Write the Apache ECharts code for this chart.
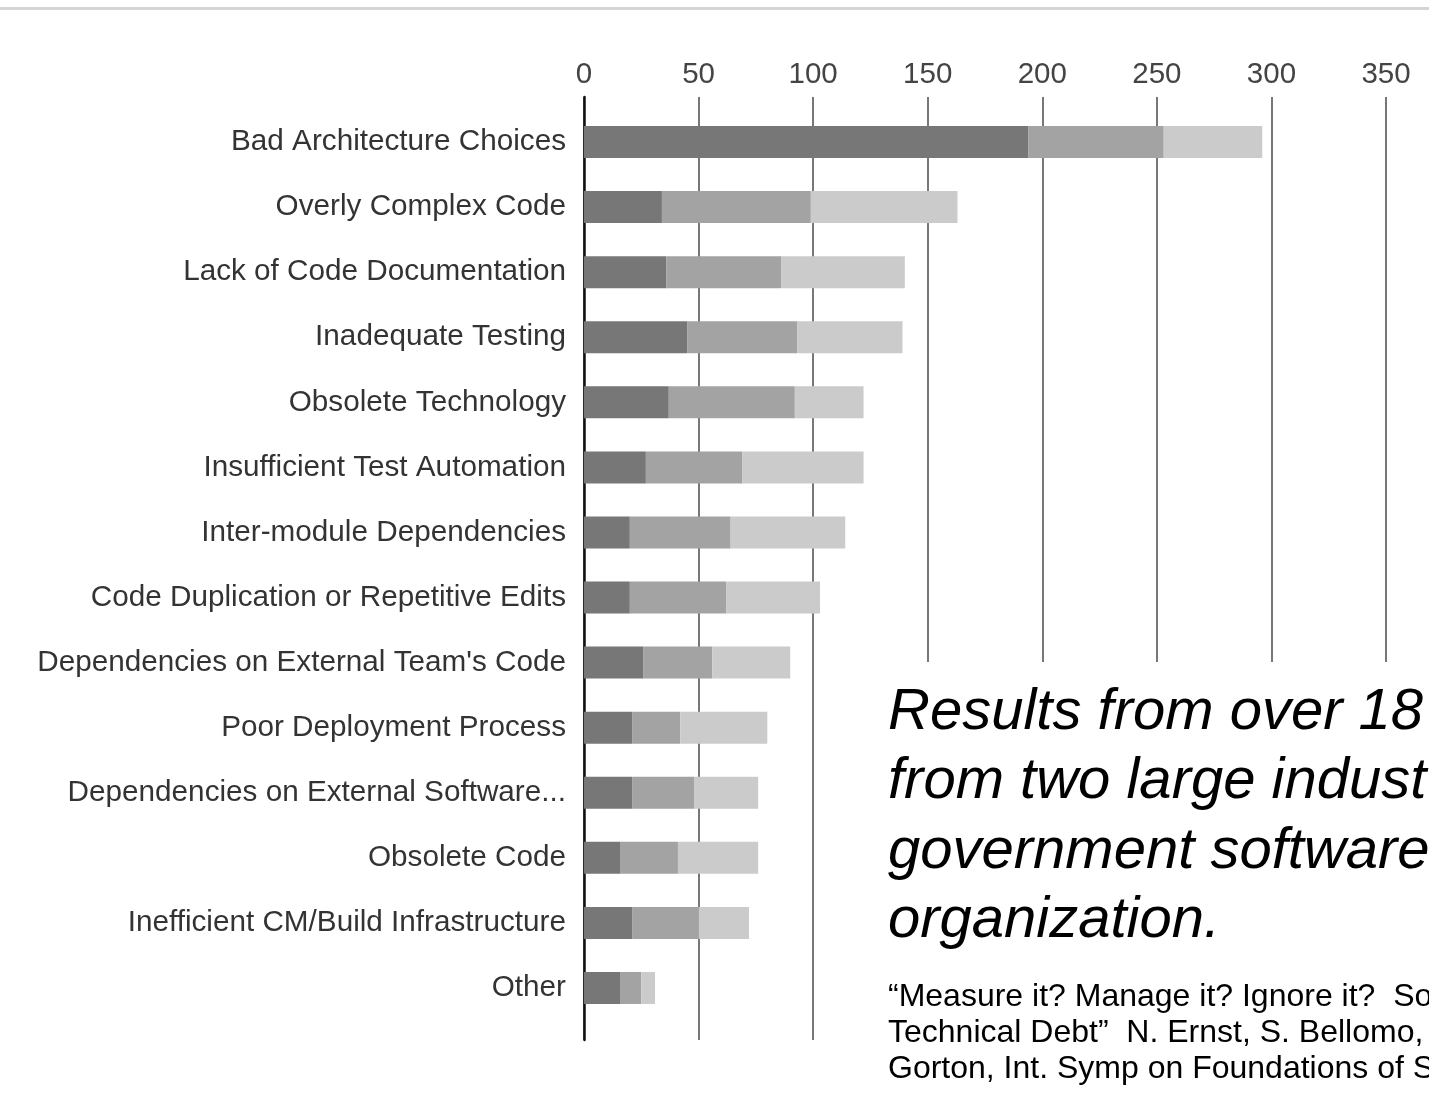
<!DOCTYPE html>
<html>
<head>
<meta charset="utf-8">
<script src="https://cdn.jsdelivr.net/npm/echarts@6/dist/echarts.min.js"></script>
<style>
html,body{margin:0;padding:0;background:#fff;}
#chart{width:1429px;height:1096px;}
</style>
</head>
<body>
<div id="chart"></div>
<script>
const categories = [
  "Bad Architecture Choices",
  "Overly Complex Code",
  "Lack of Code Documentation",
  "Inadequate Testing",
  "Obsolete Technology",
  "Insufficient Test Automation",
  "Inter-module Dependencies",
  "Code Duplication or Repetitive Edits",
  "Dependencies on External Team's Code",
  "Poor Deployment Process",
  "Dependencies on External Software...",
  "Obsolete Code",
  "Inefficient CM/Build Infrastructure",
  "Other"
];
const seriesDark  = [194, 34, 36, 45, 37, 27, 20, 20, 26, 21, 21, 16, 21, 16];
const seriesMid   = [ 59, 65, 50, 48, 55, 42, 44, 42, 30, 21, 27, 25, 29,  9];
const seriesLight = [ 43, 64, 54, 46, 30, 53, 50, 41, 34, 38, 28, 35, 22,  6];
const axisMin = 0, axisMax = 350, axisStep = 50;

const headlineLines = ["Results from over 18", "from two large indust", "government software", "organization."];
const citationLines = ["\u201CMeasure it? Manage it? Ignore it?  So", "Technical Debt\u201D  N. Ernst, S. Bellomo,", "Gorton, Int. Symp on Foundations of S"];

const FONT = "'Liberation Sans', Arial, sans-serif";
const chart = echarts.init(document.getElementById('chart'), null, {renderer: 'canvas'});

const graphics = [
  {type: 'rect', shape: {x: 0, y: 7, width: 1429, height: 3}, style: {fill: '#d4d4d4'}, z: 100},
  {type: 'rect', shape: {x: 860, y: 662, width: 569, height: 434}, style: {fill: '#ffffff'}, z: 100}
];
headlineLines.forEach((t, i) => {
  graphics.push({type: 'text', x: 888, y: 713 + i * 69.3, z: 101,
    style: {text: t, fill: '#000', font: 'italic 58px ' + FONT, textVerticalAlign: 'middle', verticalAlign: 'middle'}});
});
citationLines.forEach((t, i) => {
  graphics.push({type: 'text', x: 888, y: 997 + i * 36, z: 101,
    style: {text: t, fill: '#000', font: '32px ' + FONT, textVerticalAlign: 'middle', verticalAlign: 'middle'}});
});

const segColors = ['#777777', '#a3a3a3', '#cbcbcb'];
const segData = [seriesDark, seriesMid, seriesLight];
const segNames = ['Segment 1', 'Segment 2', 'Segment 3'];

chart.setOption({
  animation: false,
  backgroundColor: '#ffffff',
  grid: [
    {left: 584, top: 109.5, width: 802, height: 911},
    {left: 584, top: 97, width: 802, height: 943}
  ],
  xAxis: [
    {type: 'value', gridIndex: 0, min: axisMin, max: axisMax, interval: axisStep, show: false},
    {type: 'value', gridIndex: 1, min: axisMin, max: axisMax, interval: axisStep, position: 'top',
      axisLine: {show: false}, axisTick: {show: false},
      axisLabel: {fontSize: 29.5, color: '#444', fontFamily: FONT, margin: 7},
      splitLine: {show: true, lineStyle: {color: '#4a4a4a', width: 1.5}}}
  ],
  yAxis: [
    {type: 'category', gridIndex: 0, data: categories, inverse: true,
      axisLine: {show: false}, axisTick: {show: false},
      axisLabel: {fontSize: 29.7, color: '#333', fontFamily: FONT, margin: 18, interval: 0,
        padding: [4, 0, 0, 0]}},
    {type: 'value', gridIndex: 1, min: 0, max: 1,
      axisLine: {show: true, lineStyle: {color: '#111', width: 2.5}},
      axisTick: {show: false}, axisLabel: {show: false}, splitLine: {show: false}}
  ],
  series: segData.map((d, i) => ({
    type: 'bar', name: segNames[i], stack: 'total', data: d,
    xAxisIndex: 0, yAxisIndex: 0, barWidth: 32,
    itemStyle: {color: segColors[i]}
  })),
  graphic: graphics
});
</script>
</body>
</html>
